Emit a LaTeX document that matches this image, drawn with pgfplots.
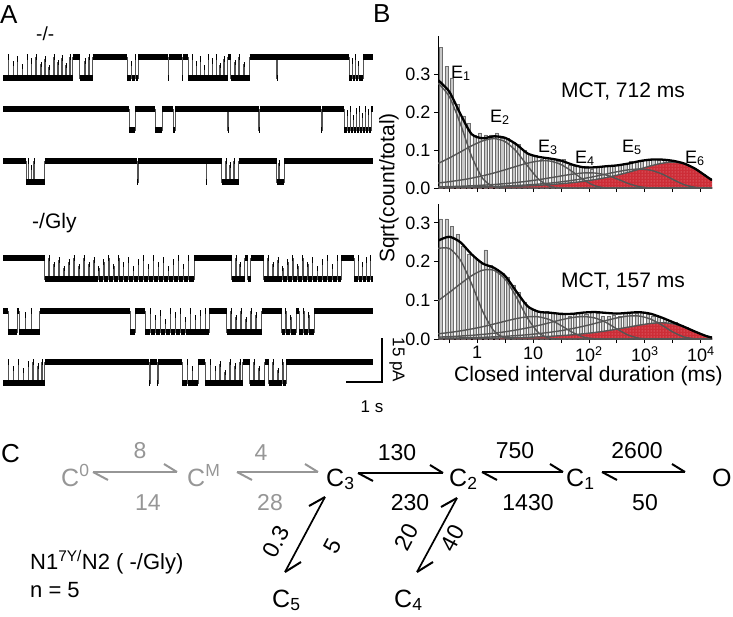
\documentclass[border=0pt]{standalone}
\usepackage{pgfplots}
\pgfplotsset{compat=1.18}
\usepackage{pgfplotstable}
\usepackage{fontspec}
\setmainfont{Liberation Sans}
\usetikzlibrary{patterns}
\newcommand{\fs}[1]{\fontsize{#1}{#1}\selectfont}
\definecolor{fitgray}{RGB}{85,85,85}
\definecolor{bargray}{RGB}{200,200,200}
\definecolor{baredge}{RGB}{110,110,110}
\definecolor{redfill}{RGB}{205,45,55}
\definecolor{redlight}{RGB}{240,160,165}
\definecolor{schgray}{RGB}{150,150,150}

% ---------- panel A traces (x: time in 30 ms units, y: 0 closed, -1 open)
\pgfplotstableread[row sep=\\]{x y\\ 0 -1\\ 5 0\\ 5.5 -1\\ 10 -0.3\\ 10.5 -1\\ 14 -0.1\\ 14.5 -1\\ 19 -0.45\\ 19.5 -1\\ 24 0\\ 24.5 -1\\ 28 -0.2\\ 28.5 -1\\ 33 0\\ 33.5 -1\\ 38 -0.35\\ 38.5 -1\\ 42 -0.1\\ 42.5 -1\\ 46 -0.5\\ 46.5 -1\\ 51 0\\ 51.5 -1\\ 55 -0.25\\ 55.5 -1\\ 59 -0.05\\ 59.5 -1\\ 63 -0.4\\ 63.5 -1\\ 67 0\\ 67.5 -1\\ 70 0\\ 77 -1\\ 82 -0.2\\ 82.5 -1\\ 86 0\\ 86.5 -1\\ 90 0\\ 125 -1\\ 129 -0.3\\ 129.5 -1\\ 133 0\\ 133.5 -1\\ 136 0\\ 166 -1\\ 166.5 0\\ 180 -1\\ 180.5 0\\ 186 -1\\ 190 0\\ 190.5 -1\\ 194 -0.3\\ 194.5 -1\\ 198 -0.1\\ 198.5 -1\\ 202 -0.5\\ 202.5 -1\\ 206 0\\ 206.5 -1\\ 210 -0.2\\ 210.5 -1\\ 214 0\\ 214.5 -1\\ 218 -0.4\\ 218.5 -1\\ 222 -0.1\\ 222.5 -1\\ 226 0\\ 229 -1\\ 233 -0.25\\ 233.5 -1\\ 237 0\\ 237.5 -1\\ 242 -0.35\\ 242.5 -1\\ 248 0\\ 275 -1\\ 275.5 0\\ 348 -1\\ 351 -0.2\\ 351.5 -1\\ 354 0\\ 354.5 -1\\ 357 -0.3\\ 357.5 -1\\ 362 0\\ 372 0\\}\trA
\pgfplotstableread[row sep=\\]{x y\\ 0 0\\ 127 -1\\ 133 0\\ 153 -1\\ 160 0\\ 171 -1\\ 173 0\\ 226 -1\\ 226.5 0\\ 257 -1\\ 258 0\\ 320 -1\\ 321 0\\ 343 -1\\ 346 -0.2\\ 346.5 -1\\ 349 0\\ 349.5 -1\\ 352 -0.4\\ 352.5 -1\\ 355 -0.1\\ 355.5 -1\\ 358 0\\ 358.5 -1\\ 361 -0.3\\ 361.5 -1\\ 364 0\\ 364.5 -1\\ 367 -0.15\\ 367.5 -1\\ 370 0\\ 372 0\\}\trB
\pgfplotstableread[row sep=\\]{x y\\ 0 0\\ 23 -1\\ 25 0\\ 25.5 -1\\ 28 -0.3\\ 28.5 -1\\ 31 0\\ 31.5 -1\\ 42 0\\ 135 -1\\ 136 0\\ 204 -1\\ 204.5 0\\ 220 -1\\ 224 0\\ 224.5 -1\\ 228 -0.2\\ 228.5 -1\\ 232 0\\ 232.5 -1\\ 237 0\\ 275 -1\\ 277 -0.1\\ 277.5 -1\\ 283 0\\ 372 0\\}\trC
\pgfplotstableread[row sep=\\]{x y\\ 0 0\\ 42 -1\\ 46 0\\ 46.5 -1\\ 51 -0.3\\ 51.5 -1\\ 56 -0.1\\ 56.5 -1\\ 61 -0.5\\ 61.5 -1\\ 66 -0.2\\ 66.5 -1\\ 71 0\\ 71.5 -1\\ 76 -0.4\\ 76.5 -1\\ 81 0\\ 81.5 -1\\ 86 -0.3\\ 86.5 -1\\ 91 -0.1\\ 91.5 -1\\ 96 -0.5\\ 96.5 -1\\ 101 -0.2\\ 101.5 -1\\ 106 0\\ 106.5 -1\\ 111 -0.4\\ 111.5 -1\\ 116 0\\ 116.5 -1\\ 121 -0.3\\ 121.5 -1\\ 126 -0.1\\ 126.5 -1\\ 131 -0.5\\ 131.5 -1\\ 136 -0.2\\ 136.5 -1\\ 141 0\\ 141.5 -1\\ 146 -0.4\\ 146.5 -1\\ 151 0\\ 151.5 -1\\ 156 -0.3\\ 156.5 -1\\ 161 -0.1\\ 161.5 -1\\ 166 -0.5\\ 166.5 -1\\ 171 -0.2\\ 171.5 -1\\ 176 0\\ 176.5 -1\\ 181 -0.4\\ 181.5 -1\\ 186 0\\ 186.5 -1\\ 192 0\\ 230 -1\\ 234 0\\ 234.5 -1\\ 238 -0.3\\ 238.5 -1\\ 243 0\\ 246 -1\\ 249 0\\ 262 -1\\ 266 0\\ 266.5 -1\\ 271 -0.3\\ 271.5 -1\\ 276 -0.1\\ 276.5 -1\\ 281 -0.5\\ 281.5 -1\\ 286 -0.2\\ 286.5 -1\\ 291 0\\ 291.5 -1\\ 296 -0.4\\ 296.5 -1\\ 301 0\\ 301.5 -1\\ 306 -0.3\\ 306.5 -1\\ 311 -0.1\\ 311.5 -1\\ 316 -0.5\\ 316.5 -1\\ 321 -0.2\\ 321.5 -1\\ 326 0\\ 326.5 -1\\ 331 -0.4\\ 331.5 -1\\ 336 0\\ 336.5 -1\\ 340 0\\ 353 -1\\ 357 0\\ 357.5 -1\\ 361 -0.3\\ 361.5 -1\\ 365 -0.1\\ 365.5 -1\\ 369 0\\ 369.5 -1\\ 372 -1\\}\trD
\pgfplotstableread[row sep=\\]{x y\\ 0 0\\ 5 -1\\ 14 0\\ 16 -1\\ 22 -0.2\\ 22.5 -1\\ 28 0\\ 28.5 -1\\ 37 0\\ 128 -1\\ 133 0\\ 143 -1\\ 148 0\\ 148.5 -1\\ 153 -0.3\\ 153.5 -1\\ 158 -0.1\\ 158.5 -1\\ 163 -0.5\\ 163.5 -1\\ 168 0\\ 168.5 -1\\ 173 -0.2\\ 173.5 -1\\ 178 0\\ 178.5 -1\\ 183 -0.4\\ 183.5 -1\\ 188 0\\ 188.5 -1\\ 193 -0.3\\ 193.5 -1\\ 198 -0.1\\ 198.5 -1\\ 203 0\\ 203.5 -1\\ 207 0\\ 225 -1\\ 229 0\\ 229.5 -1\\ 234 -0.3\\ 234.5 -1\\ 239 0\\ 239.5 -1\\ 244 -0.4\\ 244.5 -1\\ 249 0\\ 249.5 -1\\ 254 -0.2\\ 254.5 -1\\ 260 0\\ 280 -1\\ 284 0\\ 284.5 -1\\ 289 -0.3\\ 289.5 -1\\ 295 0\\ 298 -1\\ 302 0\\ 302.5 -1\\ 307 -0.2\\ 307.5 -1\\ 313 0\\ 372 0\\}\trE
\pgfplotstableread[row sep=\\]{x y\\ 0 -1\\ 5 0\\ 5.5 -1\\ 10 -0.3\\ 10.5 -1\\ 15 0\\ 15.5 -1\\ 20 -0.4\\ 20.5 -1\\ 25 -0.1\\ 25.5 -1\\ 30 0\\ 30.5 -1\\ 35 -0.2\\ 35.5 -1\\ 39 0\\ 39.5 -1\\ 42 0\\ 147 -1\\ 148 0\\ 155 -1\\ 156 0\\ 180 -1\\ 185 0\\ 185.5 -1\\ 190 -0.3\\ 190.5 -1\\ 196 0\\ 203 -1\\ 208 0\\ 208.5 -1\\ 213 -0.3\\ 213.5 -1\\ 218 -0.1\\ 218.5 -1\\ 223 -0.5\\ 223.5 -1\\ 228 0\\ 228.5 -1\\ 233 -0.2\\ 233.5 -1\\ 238 0\\ 238.5 -1\\ 241 0\\ 248 -1\\ 252 0\\ 252.5 -1\\ 257 -0.3\\ 257.5 -1\\ 263 0\\ 267 -1\\ 271 0\\ 271.5 -1\\ 276 -0.4\\ 276.5 -1\\ 281 0\\ 281.5 -1\\ 285 0\\ 372 0\\}\trF

% ---------- panel B, x = log10(duration / ms)
\pgfplotstableread{
lx E1 E2 E3 E4 E5 E6 tot
-0.7 0.276 0.0645 0.0132 0.0029 0.0013 0.0009 0.284
-0.5 0.241 0.0788 0.0166 0.0037 0.0017 0.0011 0.254
-0.3 0.169 0.0948 0.0208 0.0046 0.0021 0.0014 0.195
-0.1 0.084 0.111 0.0259 0.0059 0.0026 0.0018 0.142
0.1 0.025 0.124 0.0322 0.0074 0.0033 0.0022 0.131
0.3 0.003 0.130 0.0395 0.0092 0.0042 0.0028 0.136
0.5 0 0.122 0.048 0.0116 0.0052 0.0035 0.132
0.7 0 0.0967 0.057 0.0144 0.0066 0.0045 0.115
0.9 0 0.0584 0.0654 0.0179 0.0082 0.0056 0.091
1.1 0 0.023 0.0711 0.022 0.0103 0.0071 0.082
1.3 0 0.0046 0.071 0.0267 0.0129 0.0089 0.0776
1.5 0 0 0.0618 0.0316 0.0162 0.0112 0.0722
1.7 0 0 0.0434 0.0364 0.0201 0.014 0.0616
1.9 0 0 0.0217 0.0396 0.0248 0.0175 0.0545
2.1 0 0 0.0063 0.0395 0.0303 0.022 0.0544
2.3 0 0 0 0.0344 0.0365 0.0273 0.0571
2.5 0 0 0 0.0241 0.0427 0.0337 0.0595
2.7 0 0 0 0.012 0.0478 0.0412 0.0642
2.9 0 0 0 0.0036 0.05 0.0496 0.0706
3.1 0 0 0 0 0.047 0.058 0.0746
3.3 0 0 0 0 0.0372 0.0649 0.0748
3.5 0 0 0 0 0.0225 0.068 0.0716
3.7 0 0 0 0 0.0089 0.0639 0.0645
3.9 0 0 0 0 0.0018 0.0506 0.0506
4.1 0 0 0 0 0 0.0305 0.0305
4.2 0 0 0 0 0 0.0205 0.0205
}\topfit
\pgfplotstableread{
lx E1 E2 E3 E4 E5 E6 tot
-0.7 0.234 0.0988 0.0134 0.0048 0.0017 0.0007 0.254
-0.5 0.234 0.12 0.0168 0.006 0.0022 0.0009 0.264
-0.3 0.204 0.1424 0.0209 0.0076 0.0028 0.0011 0.250
-0.1 0.143 0.1634 0.0259 0.0095 0.0035 0.0014 0.219
0.1 0.0713 0.1778 0.0318 0.0119 0.0044 0.0017 0.195
0.3 0.0209 0.1775 0.0387 0.015 0.0056 0.0022 0.184
0.5 0.0026 0.1546 0.0459 0.0187 0.007 0.0028 0.163
0.7 0 0.1085 0.0527 0.0233 0.0088 0.0035 0.123
0.9 0 0.0542 0.0573 0.0288 0.011 0.0044 0.085
1.1 0 0.0158 0.0572 0.0351 0.0139 0.0055 0.0705
1.3 0 0.002 0.0498 0.0423 0.0173 0.0069 0.068
1.5 0 0 0.035 0.0495 0.0216 0.0087 0.065
1.7 0 0 0.0175 0.0554 0.0268 0.0108 0.065
1.9 0 0 0.0051 0.058 0.0329 0.0136 0.0682
2.1 0 0 0.0006 0.0545 0.04 0.0168 0.0696
2.3 0 0 0 0.0432 0.0475 0.0208 0.0675
2.5 0 0 0 0.026 0.0545 0.0255 0.0656
2.7 0 0 0 0.0103 0.0593 0.0306 0.0676
2.9 0 0 0 0.002 0.0592 0.0358 0.0692
3.1 0 0 0 0 0.0515 0.0401 0.0653
3.3 0 0 0 0 0.0362 0.042 0.0554
3.5 0 0 0 0 0.0181 0.0395 0.0435
3.7 0 0 0 0 0.0053 0.0312 0.0316
3.9 0 0 0 0 0.0007 0.0189 0.0189
4.1 0 0 0 0 0 0.0074 0.0074
4.2 0 0 0 0 0 0.0037 0.0037
}\botfit
\pgfplotstableread[row sep=\\]{lx v\\ -0.65 0.37\\ -0.55 0.32\\ -0.45 0.29\\ -0.35 0.22\\ -0.25 0.19\\ -0.15 0.17\\ -0.05 0.14\\ 0.05 0.145\\ 0.15 0.14\\ 0.25 0.14\\ 0.35 0.145\\ 0.45 0.13\\ 0.55 0.13\\ 0.65 0.12\\ 0.75 0.115\\ 0.85 0.10\\ 0.95 0.09\\ 1.05 0.085\\ 1.15 0.075\\ 1.25 0.08\\ 1.35 0.078\\ 1.45 0.07\\ 1.55 0.075\\ 1.65 0.06\\ 1.75 0.058\\ 1.85 0.055\\ 1.95 0.058\\ 2.05 0.05\\ 2.15 0.055\\ 2.25 0.057\\ 2.35 0.06\\ 2.45 0.056\\ 2.55 0.062\\ 2.65 0.064\\ 2.75 0.07\\ 2.85 0.068\\ 2.95 0.074\\ 3.05 0.072\\ 3.15 0.076\\ 3.25 0.074\\ 3.35 0.073\\ 3.45 0.07\\ 3.55 0.071\\ 3.65 0.063\\ 3.75 0.06\\ 3.85 0.052\\ 3.95 0.045\\ 4.05 0.036\\ 4.15 0.025\\}\topbars
\pgfplotstableread[row sep=\\]{lx v\\ -0.65 0.31\\ -0.55 0.31\\ -0.45 0.29\\ -0.35 0.27\\ -0.25 0.24\\ -0.15 0.22\\ -0.05 0.21\\ 0.05 0.20\\ 0.15 0.23\\ 0.25 0.19\\ 0.35 0.18\\ 0.45 0.17\\ 0.55 0.16\\ 0.65 0.14\\ 0.75 0.12\\ 0.85 0.095\\ 0.95 0.08\\ 1.05 0.075\\ 1.15 0.07\\ 1.25 0.072\\ 1.35 0.068\\ 1.45 0.066\\ 1.55 0.064\\ 1.65 0.06\\ 1.75 0.066\\ 1.85 0.068\\ 1.95 0.064\\ 2.05 0.07\\ 2.15 0.066\\ 2.25 0.06\\ 2.35 0.058\\ 2.45 0.062\\ 2.55 0.06\\ 2.65 0.066\\ 2.75 0.07\\ 2.85 0.067\\ 2.95 0.068\\ 3.05 0.064\\ 3.15 0.06\\ 3.25 0.055\\ 3.35 0.05\\ 3.45 0.046\\ 3.55 0.042\\ 3.65 0.035\\ 3.75 0.03\\ 3.85 0.022\\ 3.95 0.016\\ 4.05 0.01\\ 4.15 0.006\\}\botbars

\pgfplotsset{
 trace/.style={scale only axis, width=370pt, height=21pt, xmin=0, xmax=372, ymin=-1, ymax=0, hide axis, clip=false, anchor=south west},
 histax/.style={scale only axis, width=274pt, anchor=south west, xmin=-0.7, xmax=4.2, ymin=0,
   axis x line*=bottom, axis y line*=left, axis line style={line width=1pt, black},
   tick align=outside, major tick length=4pt, minor tick length=4pt, tick style={line width=0.9pt, black},
   xtick={0,1,2,3,4}, minor xtick={-0.5,0.5,1.5,2.5,3.5},
   ytick={0,0.1,0.2,0.3}, yticklabels={0.0,0.1,0.2,0.3},
   tick label style={font=\fs{18}}},
 fitline/.style={color=fitgray, line width=1.4pt, smooth, tension=0.45},
 totline/.style={color=black, line width=2.3pt, smooth, tension=0.45},
 thintr/.style={const plot, color=gray!65!black, line width=0.7pt},
 thicktr/.style={jump mark left, black, line width=5.5pt},
}
\newcommand{\harp}[4]{%
 \draw[#4,line width=1.7pt] (#1,#3)--(#2,#3);
 \draw[#4,line width=2pt] (#2,#3)--++(-13,-8);
 \draw[#4,line width=2pt] (#1,#3)--++(15,8);}

\begin{document}
\begin{tikzpicture}
\useasboundingbox (0pt,0pt) rectangle (733pt,-616pt);

% ---------------- Panel A
\begin{axis}[trace, at={(3pt,-78pt)}]
 \addplot[thintr] table[x=x,y=y]{\trA};
 \addplot[thicktr] table[x=x,y=y]{\trA};
\end{axis}
\begin{axis}[trace, at={(3pt,-130pt)}]
 \addplot[thintr] table[x=x,y=y]{\trB};
 \addplot[thicktr] table[x=x,y=y]{\trB};
\end{axis}
\begin{axis}[trace, at={(3pt,-182pt)}]
 \addplot[thintr] table[x=x,y=y]{\trC};
 \addplot[thicktr] table[x=x,y=y]{\trC};
\end{axis}
\begin{axis}[trace, at={(3pt,-279pt)}]
 \addplot[thintr] table[x=x,y=y]{\trD};
 \addplot[thicktr] table[x=x,y=y]{\trD};
\end{axis}
\begin{axis}[trace, at={(3pt,-332pt)}]
 \addplot[thintr] table[x=x,y=y]{\trE};
 \addplot[thicktr] table[x=x,y=y]{\trE};
\end{axis}
\begin{axis}[trace, at={(3pt,-383pt)}]
 \addplot[thintr] table[x=x,y=y]{\trF};
 \addplot[thicktr] table[x=x,y=y]{\trF};
\end{axis}

% ---------------- Panel B top
\begin{axis}[histax, at={(438pt,-188pt)}, height=152pt, ymax=0.4, xticklabels={}]
 \addplot[ybar, bar width=3.2pt, fill=bargray, draw=baredge, line width=0.5pt] table[x=lx,y=v]{\topbars};
 \addplot[draw=none, fill=redfill, postaction={pattern=dots, pattern color=redlight}] table[x=lx,y=E6]{\topfit} \closedcycle;
 \addplot[fitline] table[x=lx,y=E1]{\topfit};
 \addplot[fitline] table[x=lx,y=E2]{\topfit};
 \addplot[fitline] table[x=lx,y=E3]{\topfit};
 \addplot[fitline] table[x=lx,y=E4]{\topfit};
 \addplot[fitline] table[x=lx,y=E5]{\topfit};
 \addplot[fitline] table[x=lx,y=E6]{\topfit};
 \addplot[totline] table[x=lx,y=tot]{\topfit};
\end{axis}

% ---------------- Panel B bottom
\begin{axis}[histax, at={(438pt,-339pt)}, height=135.5pt, ymax=0.35,
  xticklabels={1,10,10\textsuperscript{2},10\textsuperscript{3},10\textsuperscript{4}}]
 \addplot[ybar, bar width=3.2pt, fill=bargray, draw=baredge, line width=0.5pt] table[x=lx,y=v]{\botbars};
 \addplot[draw=none, fill=redfill, postaction={pattern=dots, pattern color=redlight}] table[x=lx,y=E6]{\botfit} \closedcycle;
 \addplot[fitline] table[x=lx,y=E1]{\botfit};
 \addplot[fitline] table[x=lx,y=E2]{\botfit};
 \addplot[fitline] table[x=lx,y=E3]{\botfit};
 \addplot[fitline] table[x=lx,y=E4]{\botfit};
 \addplot[fitline] table[x=lx,y=E5]{\botfit};
 \addplot[fitline] table[x=lx,y=E6]{\botfit};
 \addplot[totline] table[x=lx,y=tot]{\botfit};
\end{axis}

\begin{scope}[x=1pt,y=-1pt, every node/.style={inner sep=0pt}]
 % panel letters
 \node[anchor=base west, font=\fs{26}] at (0,23) {A};
 \node[anchor=base west, font=\fs{26}] at (373,22) {B};
 \node[anchor=base west, font=\fs{26}] at (1,462) {C};
 % panel A labels and scale bar
 \node[anchor=base west, font=\fs{19}] at (36,40) {-/-};
 \node[anchor=base west, font=\fs{21}] at (32,228) {-/Gly};
 \draw[black, line width=1.3pt] (382,338) -- (382,382) -- (346,382);
 \node[rotate=-90, font=\fs{17}] at (397,360) {15 pA};
 \node[anchor=base, font=\fs{17}] at (372,412) {1 s};
 % panel B labels
 \node[rotate=90, font=\fs{21}] at (389,188) {Sqrt(count/total)};
 \node[anchor=base west, font=\fs{21}] at (454,381) {Closed interval duration (ms)};
 \node[anchor=base, font=\fs{21}] at (623,97) {MCT, 712 ms};
 \node[anchor=base, font=\fs{21}] at (623,287) {MCT, 157 ms};
 \node[anchor=base west, font=\fs{18}] at (451,78) {E\textsubscript{1}};
 \node[anchor=base west, font=\fs{18}] at (490,122) {E\textsubscript{2}};
 \node[anchor=base west, font=\fs{18}] at (538,152) {E\textsubscript{3}};
 \node[anchor=base west, font=\fs{18}] at (575,163) {E\textsubscript{4}};
 \node[anchor=base west, font=\fs{18}] at (622,152) {E\textsubscript{5}};
 \node[anchor=base west, font=\fs{18}] at (685,163) {E\textsubscript{6}};
 % panel C scheme
 \harp{93}{177}{472}{schgray}
 \harp{237}{318}{472}{schgray}
 \harp{358}{443}{473}{black}
 \harp{482}{563}{472}{black}
 \harp{602}{685}{472}{black}
 \draw[black,line width=1.7pt] (325,497)--(285,572);
 \draw[black,line width=2pt] (285,572)--++(16,-10);
 \draw[black,line width=2pt] (325,497)--++(-16,9);
 \draw[black,line width=1.7pt] (457,498)--(417,572);
 \draw[black,line width=2pt] (417,572)--++(16,-10);
 \draw[black,line width=2pt] (457,498)--++(-16,9);
 \node[anchor=base west, font=\fs{25}, text=schgray] at (61,486) {C\textsuperscript{0}};
 \node[anchor=base west, font=\fs{25}, text=schgray] at (187,486) {C\textsuperscript{M}};
 \node[anchor=base west, font=\fs{25}] at (326,486) {C\textsubscript{3}};
 \node[anchor=base west, font=\fs{25}] at (449,486) {C\textsubscript{2}};
 \node[anchor=base west, font=\fs{25}] at (566,486) {C\textsubscript{1}};
 \node[anchor=base west, font=\fs{25}] at (712,486) {O};
 \node[anchor=base west, font=\fs{25}] at (272,607) {C\textsubscript{5}};
 \node[anchor=base west, font=\fs{25}] at (394,607) {C\textsubscript{4}};
 \node[anchor=base, font=\fs{23}, text=schgray] at (140,458) {8};
 \node[anchor=base, font=\fs{23}, text=schgray] at (148,510) {14};
 \node[anchor=base, font=\fs{23}, text=schgray] at (261,460) {4};
 \node[anchor=base, font=\fs{23}, text=schgray] at (270,510) {28};
 \node[anchor=base, font=\fs{23}] at (397,460) {130};
 \node[anchor=base, font=\fs{23}] at (410,510) {230};
 \node[anchor=base, font=\fs{23}] at (515,458) {750};
 \node[anchor=base, font=\fs{23}] at (528,510) {1430};
 \node[anchor=base, font=\fs{23}] at (637,458) {2600};
 \node[anchor=base, font=\fs{23}] at (645,510) {50};
 \node[rotate=62, font=\fs{23}] at (276,542) {0.3};
 \node[rotate=62, font=\fs{23}] at (333,546) {5};
 \node[rotate=62, font=\fs{23}] at (407,537) {20};
 \node[rotate=62, font=\fs{23}] at (453,538) {40};
 \node[anchor=base west, font=\fs{22}] at (30,569) {N1\textsuperscript{7Y/}N2 ( -/Gly)};
 \node[anchor=base west, font=\fs{22}] at (30,597) {n = 5};
\end{scope}
\end{tikzpicture}
\end{document}
